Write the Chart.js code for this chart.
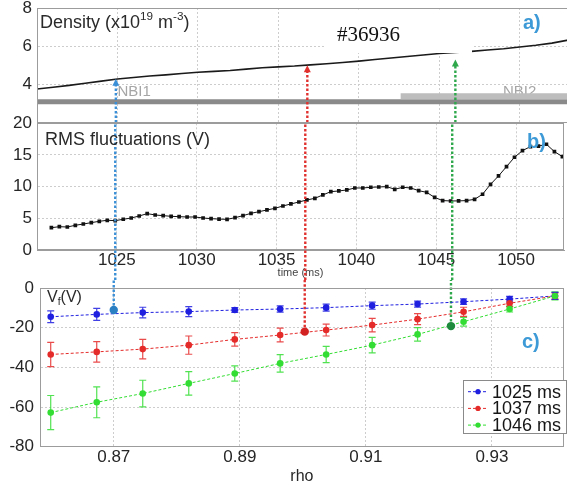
<!DOCTYPE html>
<html>
<head>
<meta charset="utf-8">
<script src="https://cdn.jsdelivr.net/npm/chart.js@4.4.0/dist/chart.umd.min.js"></script>
<style>
  html, body { margin: 0; padding: 0; background: #fff; overflow: hidden; }
  #wrap { position: relative; width: 567px; height: 486px; overflow: hidden; background: #fff; }
  #wrap canvas { position: absolute; left: 0; }
</style>
</head>
<body>
<div id="wrap">
  <canvas id="densityChart" width="568" height="124" style="top:0px"></canvas>
  <canvas id="rmsChart" width="568" height="166" style="top:114px"></canvas>
  <canvas id="profileChart" width="568" height="206" style="top:280px"></canvas>
</div>
<script>
// --- data (shot #36936) ---
const densityTime = [1020, 1021, 1022, 1023, 1024, 1025, 1026, 1027, 1028, 1029, 1030, 1031, 1032, 1033, 1034, 1035, 1036,
  1037, 1038, 1039, 1040, 1041, 1042, 1043, 1044, 1045, 1046, 1047, 1048, 1049, 1050, 1051, 1052, 1053];
const densityValue = [3.76, 3.85, 3.95, 4.06, 4.17, 4.28, 4.36, 4.44, 4.50, 4.57, 4.64, 4.68, 4.73, 4.80, 4.87, 4.92, 4.96,
  5.02, 5.08, 5.15, 5.22, 5.30, 5.38, 5.46, 5.54, 5.62, 5.67, 5.73, 5.80, 5.87, 5.96, 6.05, 6.16, 6.32];

const nbi1Time = [1020, 1053];
const nbi1Level = [3.09, 3.09];
const nbi2Time = [1042.6, 1053];
const nbi2Level = [3.38, 3.38];

const rmsTime = [1020.9, 1021.4, 1021.9, 1022.4, 1022.9, 1023.4, 1023.9, 1024.4, 1024.9, 1025.4, 1025.9, 1026.4, 1026.9,
  1027.4, 1027.9, 1028.4, 1028.9, 1029.4, 1029.9, 1030.4, 1030.9, 1031.4, 1031.9, 1032.4, 1032.9, 1033.4, 1033.9,
  1034.4, 1034.9, 1035.4, 1035.9, 1036.4, 1036.9, 1037.4, 1037.9, 1038.4, 1038.9, 1039.4, 1039.9, 1040.4, 1040.9,
  1041.4, 1041.9, 1042.4, 1042.9, 1043.4, 1043.9, 1044.4, 1044.9, 1045.4, 1045.9, 1046.4, 1046.9, 1047.4, 1047.9,
  1048.4, 1048.9, 1049.4, 1049.9, 1050.4, 1050.9, 1051.4, 1051.9, 1052.4, 1052.9];
const rmsValue = [3.52, 3.68, 3.63, 3.9, 4.1, 4.32, 4.53, 4.69, 4.63, 4.85, 5.05, 5.37, 5.74,
  5.53, 5.42, 5.32, 5.26, 5.21, 5.21, 5.05, 4.95, 4.88, 4.84, 5.1, 5.42, 5.79, 6.05,
  6.32, 6.58, 6.95, 7.27, 7.58, 7.9, 8.16, 8.69, 9.21, 9.32, 9.48, 9.79, 9.79, 9.9,
  9.95, 10.0, 9.58, 9.9, 9.79, 9.37, 9.1, 8.3, 7.8, 7.74, 7.75, 7.8, 8.0, 8.8,
  10.37, 11.69, 13.16, 14.64, 15.69, 16.32, 16.4, 16.69, 15.53, 14.74];

const rho = [0.8600, 0.8673, 0.8746, 0.8819, 0.8892, 0.8964, 0.9037, 0.9110, 0.9182, 0.9255, 0.9328, 0.9400];
const vf1025 = [-14.5, -13.3, -12.4, -11.9, -11.1, -10.6, -9.9, -8.9, -8.1, -6.9, -5.6, -4.0];
const err1025 = [3.0, 3.0, 2.7, 2.5, 1.2, 1.6, 1.8, 1.8, 1.5, 1.4, 1.4, 1.8];
const vf1037 = [-33.5, -32.2, -30.8, -28.8, -25.9, -23.7, -21.2, -18.7, -15.7, -12.0, -7.7, -4.0];
const err1037 = [6.1, 5.2, 4.9, 4.6, 3.4, 3.5, 3.0, 3.4, 2.8, 2.3, 1.7, 1.5];
const vf1046 = [-62.8, -57.6, -53.2, -48.1, -43.1, -38.0, -33.5, -28.8, -23.4, -17.0, -10.6, -4.0];
const err1046 = [8.6, 7.8, 6.7, 5.9, 3.8, 4.4, 4.1, 3.9, 3.4, 2.2, 1.5, 2.0];
const seriesLabels = ['1025 ms', '1037 ms', '1046 ms'];

// the three chosen times, linked between panels
const markTime = [1024.9, 1036.8, 1046];
const markRho = [0.87, 0.9003, 0.9235];
const markVf = [-11.1, -22.0, -19.2];
const markDensity = [4.3, 5.0, 5.3];

const timeTicks = [1020, 1025, 1030, 1035, 1040, 1045, 1050];
const densityTicks = [2, 4, 6, 8];
const rmsTicks = [0, 5, 10, 15, 20];
const rhoTicks = [0.87, 0.89, 0.91, 0.93];
const vfTicks = [-80, -60, -40, -20, 0];

// --- styling ---
const SANS = "'Liberation Sans', Arial, sans-serif";
const seriesColors = ['#1f1fe0', '#e52a2a', '#33dd33'];
const guideColors = ['#3a8fd6', '#e0312f', '#2fa84c'];
const guidePointColors = ['#2b7fc3', '#d22222', '#1d8a3c'];
const labelBlue = '#3d9ad6';
const gridColor = '#cdcdcd';
const frameColor = '#9c9c9c';
const tickFont = { family: SANS, size: 17 };

Chart.defaults.font.family = SANS;

const pairs = (xs, ys) => xs.map((x, i) => ({ x: x, y: ys[i] }));
const useTicks = list => s => { s.ticks = list.map(v => ({ value: v })); };
const fixWidth = w => s => { s.width = w; s.paddingTop = 0; s.paddingBottom = 0; };
const fixHeight = h => s => { s.height = h; s.paddingLeft = 0; s.paddingRight = 0; };

function drawRich(ctx, it) {
  let x = it.x;
  ctx.save();
  ctx.fillStyle = it.color;
  ctx.textAlign = 'left';
  ctx.textBaseline = 'alphabetic';
  it.parts.forEach(p => {
    const size = p.s ? it.size * 0.65 : it.size;
    const dy = p.s === 'sup' ? -it.size * 0.42 : (p.s === 'sub' ? it.size * 0.22 : 0);
    ctx.font = (it.weight || 'normal') + ' ' + size + 'px ' + (it.family || SANS);
    ctx.fillText(p.t, x, it.y + dy);
    x += ctx.measureText(p.t).width;
  });
  ctx.restore();
}

// box around the plot area (matlab style)
const framePlugin = {
  id: 'frame',
  afterDraw(chart) {
    const { ctx, chartArea: a } = chart;
    ctx.save();
    ctx.strokeStyle = frameColor;
    ctx.lineWidth = 1;
    ctx.strokeRect(Math.round(a.left) + 0.5, Math.round(a.top) + 0.5,
      Math.round(a.right - a.left) - 1, Math.round(a.bottom - a.top) - 1);
    ctx.restore();
  }
};

// dotted vertical guides joining the three panels
function makeGuides(cfg) {
  const draw = chart => {
    const { ctx, chartArea, scales } = chart;
    cfg.xs.forEach((xv, i) => {
      const px = scales.x.getPixelForValue(xv);
      let y0, y1;
      if (cfg.mode === 'tip') {
        y0 = chartArea.bottom;
        y1 = scales.y.getPixelForValue(cfg.ys[i]) + 6;
      } else if (cfg.mode === 'through') {
        y0 = chart.height;
        y1 = chartArea.top;
      } else {
        y0 = scales.y.getPixelForValue(cfg.ys[i]);
        y1 = 0;
      }
      ctx.save();
      ctx.strokeStyle = guideColors[i];
      ctx.fillStyle = guideColors[i];
      ctx.lineWidth = 2.4;
      ctx.setLineDash([2.5, 2]);
      ctx.beginPath();
      ctx.moveTo(px, y0);
      ctx.lineTo(px, y1);
      ctx.stroke();
      if (cfg.mode === 'tip') {
        ctx.setLineDash([]);
        ctx.beginPath();
        ctx.moveTo(px, y1 - 6);
        ctx.lineTo(px - 3.5, y1 + 1);
        ctx.lineTo(px + 3.5, y1 + 1);
        ctx.closePath();
        ctx.fill();
      }
      ctx.restore();
    });
  };
  return {
    id: 'guides',
    beforeDatasetsDraw(chart) { if (cfg.under) draw(chart); },
    afterDatasetsDraw(chart) { if (!cfg.under) draw(chart); }
  };
}

// free text, optional white masks
function makeNotes(cfg) {
  return {
    id: 'notes',
    beforeDatasetsDraw(chart) {
      (cfg.under || []).forEach(it => drawRich(chart.ctx, it));
    },
    afterDraw(chart) {
      const ctx = chart.ctx;
      (cfg.masks || []).forEach(m => {
        ctx.fillStyle = '#fff';
        ctx.fillRect(m.x, m.y, m.w, m.h);
      });
      (cfg.items || []).forEach(it => drawRich(ctx, it));
    }
  };
}

const errorBarPlugin = {
  id: 'errorBars',
  beforeDatasetsDraw(chart) {
    const { ctx, scales: { y } } = chart;
    chart.data.datasets.forEach((ds, di) => {
      if (!ds.errorBars) return;
      const meta = chart.getDatasetMeta(di);
      ctx.save();
      ctx.strokeStyle = ds.borderColor;
      ctx.globalAlpha = 0.85;
      ctx.lineWidth = 1.2;
      meta.data.forEach((pt, i) => {
        const v = ds.data[i].y, e = ds.errorBars[i];
        const yTop = y.getPixelForValue(v + e), yBot = y.getPixelForValue(v - e);
        ctx.beginPath();
        ctx.moveTo(pt.x, yTop); ctx.lineTo(pt.x, yBot);
        ctx.moveTo(pt.x - 3.5, yTop); ctx.lineTo(pt.x + 3.5, yTop);
        ctx.moveTo(pt.x - 3.5, yBot); ctx.lineTo(pt.x + 3.5, yBot);
        ctx.stroke();
      });
      ctx.restore();
    });
  }
};

// boxed legend inside panel c
function makeLegend(box) {
  return {
    id: 'boxLegend',
    afterDraw(chart) {
      const ctx = chart.ctx;
      ctx.save();
      ctx.fillStyle = '#fff';
      ctx.strokeStyle = '#8a8a8a';
      ctx.lineWidth = 1;
      ctx.fillRect(box.x, box.y, box.w, box.h);
      ctx.strokeRect(box.x + 0.5, box.y + 0.5, box.w, box.h);
      seriesLabels.forEach((lab, k) => {
        const cy = box.y + box.first + k * box.row;
        ctx.strokeStyle = seriesColors[k];
        ctx.fillStyle = seriesColors[k];
        ctx.setLineDash([3, 2]);
        ctx.beginPath();
        ctx.moveTo(box.x + 5, cy);
        ctx.lineTo(box.x + 25, cy);
        ctx.stroke();
        ctx.setLineDash([]);
        ctx.beginPath();
        ctx.arc(box.x + 15, cy, 2.6, 0, Math.PI * 2);
        ctx.fill();
        ctx.fillStyle = '#151515';
        ctx.font = '18px ' + SANS;
        ctx.textBaseline = 'middle';
        ctx.fillText(lab, box.x + 29, cy + 1);
      });
      ctx.restore();
    }
  };
}

const baseGrid = { color: gridColor, drawTicks: false };
const baseBorder = { color: frameColor, dash: [2, 2] };
const quiet = { legend: { display: false }, tooltip: { enabled: false } };

// ---------- a) density ----------
new Chart(document.getElementById('densityChart'), {
  type: 'line',
  data: {
    datasets: [
      { data: pairs(densityTime, densityValue), borderColor: '#1a1a1a', borderWidth: 1.6, pointRadius: 0 },
      { data: pairs(nbi2Time, nbi2Level), borderColor: '#bdbdbd', borderWidth: 6, pointRadius: 0 },
      { data: pairs(nbi1Time, nbi1Level), borderColor: '#8a8a8a', borderWidth: 5, pointRadius: 0 }
    ]
  },
  options: {
    responsive: false, animation: false, devicePixelRatio: 1,
    layout: { padding: { top: 8, bottom: 1.4, left: 0, right: 0 } },
    plugins: quiet,
    scales: {
      x: {
        type: 'linear', min: 1020, max: 1053,
        afterBuildTicks: useTicks(timeTicks), afterFit: fixHeight(0),
        ticks: { display: false }, grid: baseGrid, border: baseBorder
      },
      y: {
        min: 2, max: 8,
        afterBuildTicks: useTicks(densityTicks), afterFit: fixWidth(37),
        ticks: { padding: 5, autoSkip: false, color: '#262626', font: tickFont, callback: v => (v === 2 ? '' : String(v)) },
        grid: baseGrid, border: baseBorder
      }
    }
  },
  plugins: [
    framePlugin,
    makeGuides({ mode: 'tip', xs: markTime, ys: markDensity }),
    makeNotes({
      under: [
        { x: 117.5, y: 96, size: 15, color: '#a6a6a6', parts: [{ t: 'NBI1' }] },
        { x: 503, y: 96, size: 15, color: '#a6a6a6', parts: [{ t: 'NBI2' }] }
      ],
      masks: [{ x: 325, y: 9.5, w: 147, h: 43.5 }],
      items: [
        { x: 40, y: 28, size: 18, color: '#2a2a2a',
          parts: [{ t: 'Density (x10' }, { t: '19', s: 'sup' }, { t: ' m' }, { t: '-3', s: 'sup' }, { t: ')' }] },
        { x: 337, y: 41, size: 21, color: '#111', family: "'Liberation Serif', 'Times New Roman', serif", parts: [{ t: '#36936' }] },
        { x: 523, y: 28.5, size: 20, weight: 'bold', color: labelBlue, parts: [{ t: 'a)' }] }
      ]
    })
  ]
});

// ---------- b) RMS fluctuations ----------
new Chart(document.getElementById('rmsChart'), {
  type: 'line',
  data: {
    datasets: [{
      data: pairs(rmsTime, rmsValue), borderColor: '#111', borderWidth: 1,
      pointStyle: 'rect', pointRadius: 2.6, pointBackgroundColor: '#111', pointBorderWidth: 0
    }]
  },
  options: {
    responsive: false, animation: false, devicePixelRatio: 1,
    layout: { padding: { top: 9.3, bottom: 0, left: 0, right: 0 } },
    plugins: quiet,
    scales: {
      x: {
        type: 'linear', min: 1020, max: 1053,
        afterBuildTicks: useTicks(timeTicks), afterFit: fixHeight(30),
        ticks: { padding: 0, autoSkip: false, color: '#262626', font: tickFont, maxRotation: 0, callback: v => (v === 1020 ? '' : String(v)) },
        title: { display: true, text: 'time (ms)', color: '#444', font: { size: 11 }, padding: { top: 0, bottom: 0 } },
        grid: baseGrid, border: baseBorder
      },
      y: {
        min: 0, max: 20,
        afterBuildTicks: useTicks(rmsTicks), afterFit: fixWidth(37),
        ticks: { padding: 5, autoSkip: false, color: '#262626', font: tickFont },
        grid: baseGrid, border: baseBorder
      }
    }
  },
  plugins: [
    framePlugin,
    makeGuides({ mode: 'through', xs: markTime }),
    makeNotes({
      items: [
        { x: 45, y: 31, size: 18, color: '#2a2a2a', parts: [{ t: 'RMS fluctuations (V)' }] },
        { x: 527, y: 34, size: 20, weight: 'bold', color: labelBlue, parts: [{ t: 'b)' }] }
      ]
    })
  ]
});

// ---------- c) floating potential profiles ----------
function profileSeries(values, errs, k) {
  return {
    label: seriesLabels[k],
    data: pairs(rho, values),
    errorBars: errs,
    borderColor: seriesColors[k],
    backgroundColor: seriesColors[k],
    pointBackgroundColor: seriesColors[k],
    borderWidth: 1,
    borderDash: [3, 2],
    pointRadius: 3.3,
    pointBorderWidth: 0
  };
}

new Chart(document.getElementById('profileChart'), {
  type: 'line',
  data: {
    datasets: [
      { data: pairs(markRho, markVf), showLine: false, pointRadius: 4.2,
        pointBackgroundColor: guidePointColors, pointBorderWidth: 0 },
      profileSeries(vf1046, err1046, 2),
      profileSeries(vf1037, err1037, 1),
      profileSeries(vf1025, err1025, 0)
    ]
  },
  options: {
    responsive: false, animation: false, devicePixelRatio: 1,
    layout: { padding: { top: 8, bottom: 0, left: 0, right: 0 } },
    plugins: quiet,
    scales: {
      x: {
        type: 'linear', min: 0.8583, max: 0.9414,
        afterBuildTicks: useTicks(rhoTicks), afterFit: fixHeight(39.3),
        ticks: { padding: 0, autoSkip: false, color: '#262626', font: tickFont, maxRotation: 0, callback: v => v.toFixed(2) },
        title: { display: true, text: 'rho', color: '#262626', font: { size: 16 }, padding: { top: 0, bottom: 0 } },
        grid: baseGrid, border: baseBorder
      },
      y: {
        min: -80, max: 0,
        afterBuildTicks: useTicks(vfTicks), afterFit: fixWidth(40),
        ticks: { padding: 6, autoSkip: false, color: '#262626', font: tickFont },
        grid: baseGrid, border: baseBorder
      }
    }
  },
  plugins: [
    framePlugin,
    errorBarPlugin,
    makeGuides({ mode: 'point', under: true, xs: markRho, ys: markVf }),
    makeNotes({
      items: [
        { x: 47, y: 21.7, size: 16, color: '#2a2a2a', parts: [{ t: 'V' }, { t: 'f', s: 'sub' }, { t: '(V)' }] },
        { x: 522, y: 68, size: 20, weight: 'bold', color: labelBlue, parts: [{ t: 'c)' }] }
      ]
    }),
    makeLegend({ x: 463, y: 100, w: 103, h: 53, first: 11.7, row: 16.7 })
  ]
});
</script>
</body>
</html>
